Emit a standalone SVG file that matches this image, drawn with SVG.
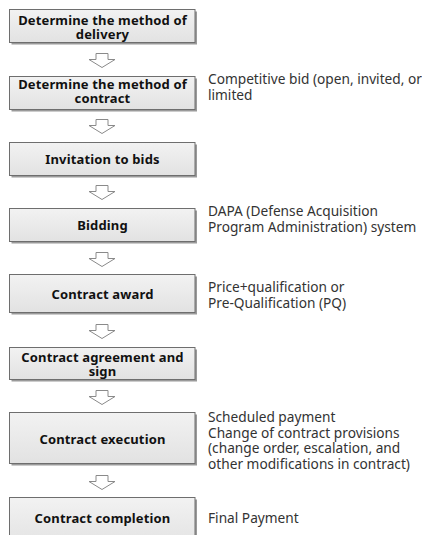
<svg xmlns="http://www.w3.org/2000/svg" width="422" height="535" viewBox="0 0 422 535">
<defs>
<linearGradient id="g" x1="0" y1="0" x2="0" y2="1">
<stop offset="0" stop-color="#f2f2f2"/>
<stop offset="1" stop-color="#e2e2e2"/>
</linearGradient>
<path id="arr" d="M96,0 H108 V6 H115 L102,14 L89,6 H96 Z"/>
</defs>
<style>
.sh{fill:#9a9a9a}
.bx{fill:url(#g);stroke:#6e6e6e;stroke-width:1}
.bt{font-family:"Noto Sans","DejaVu Sans",sans-serif;font-weight:bold;font-size:13px;letter-spacing:0.15px;fill:#111;text-anchor:middle}
.nt{font-family:"Noto Sans","DejaVu Sans",sans-serif;font-size:13.7px;fill:#333}
.ar{fill:#fff;stroke:#8a8a8a;stroke-width:1}
</style>
<rect width="422" height="535" fill="#fff"/>
<g id="n1"><rect class="sh" x="11.5" y="11.5" width="185.5" height="33"/><rect class="bx" x="9.5" y="9.5" width="185.5" height="33"/><text class="bt" x="102.5" y="25">Determine the method of</text><text class="bt" x="102.5" y="39">delivery</text></g>
<g id="n2"><rect class="sh" x="11.5" y="78.5" width="185.5" height="33"/><rect class="bx" x="9.5" y="76.5" width="185.5" height="33"/><text class="bt" x="102.5" y="89">Determine the method of</text><text class="bt" x="102.5" y="103">contract</text><text class="nt"><tspan x="208" y="84">Competitive bid (open, invited, or</tspan><tspan x="208" y="100">limited</tspan></text></g>
<g id="n3"><rect class="sh" x="11.5" y="144.5" width="185.5" height="33"/><rect class="bx" x="9.5" y="142.5" width="185.5" height="33"/><text class="bt" x="102.5" y="164">Invitation to bids</text></g>
<g id="n4"><rect class="sh" x="11.5" y="210.5" width="185.5" height="33"/><rect class="bx" x="9.5" y="208.5" width="185.5" height="33"/><text class="bt" x="102.5" y="230">Bidding</text><text class="nt"><tspan x="208" y="216">DAPA (Defense Acquisition</tspan><tspan x="208" y="232">Program Administration) system</tspan></text></g>
<g id="n5"><rect class="sh" x="11.5" y="276.5" width="185.5" height="38"/><rect class="bx" x="9.5" y="274.5" width="185.5" height="38"/><text class="bt" x="102.5" y="298.5">Contract award</text><text class="nt"><tspan x="208" y="292">Price+qualification or</tspan><tspan x="208" y="307.5">Pre-Qualification (PQ)</tspan></text></g>
<g id="n6"><rect class="sh" x="11.5" y="349.5" width="185.5" height="32"/><rect class="bx" x="9.5" y="347.5" width="185.5" height="32"/><text class="bt" x="102.5" y="362">Contract agreement and</text><text class="bt" x="102.5" y="376">sign</text></g>
<g id="n7"><rect class="sh" x="11.5" y="414.5" width="185.5" height="51"/><rect class="bx" x="9.5" y="412.5" width="185.5" height="51"/><text class="bt" x="102.5" y="443.5">Contract execution</text><text class="nt"><tspan x="208" y="422">Scheduled payment</tspan><tspan x="208" y="437.5">Change of contract provisions</tspan><tspan x="208" y="453">(change order, escalation, and</tspan><tspan x="208" y="468.5">other modifications in contract)</tspan></text></g>
<g id="n8"><rect class="sh" x="11.5" y="499.5" width="185.5" height="51"/><rect class="bx" x="9.5" y="497.5" width="185.5" height="51"/><text class="bt" x="102.5" y="523">Contract completion</text><text class="nt" x="208" y="523">Final Payment</text></g>
<g id="connectors">
<use href="#arr" class="ar" y="53.5"/>
<use href="#arr" class="ar" y="119.5"/>
<use href="#arr" class="ar" y="185.5"/>
<use href="#arr" class="ar" y="252.5"/>
<use href="#arr" class="ar" y="324.5"/>
<use href="#arr" class="ar" y="390.5"/>
<use href="#arr" class="ar" y="475.5"/>
</g>
</svg>
